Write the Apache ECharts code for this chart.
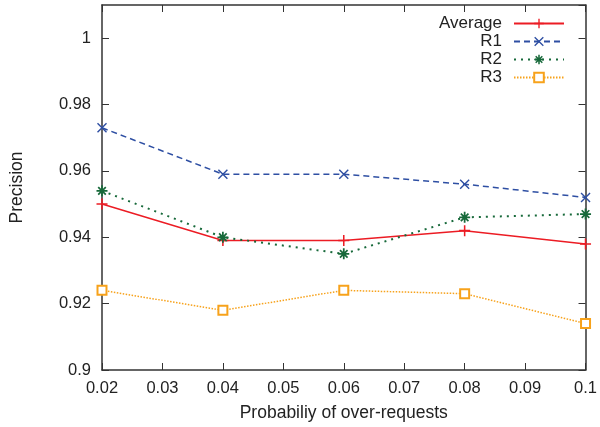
<!DOCTYPE html>
<html>
<head>
<meta charset="utf-8">
<script src="https://cdn.jsdelivr.net/npm/echarts@6/dist/echarts.min.js"></script>
<style>html,body{margin:0;padding:0;background:#fff}#c{width:600px;height:427px}</style>
</head>
<body>
<div id="c"></div>
<script>
var xValues = [0.02, 0.04, 0.06, 0.08, 0.10];
var seriesNames = ['Average', 'R1', 'R2', 'R3'];
var avgValues = [0.950, 0.939, 0.939, 0.942, 0.938];
var r1Values = [0.973, 0.959, 0.959, 0.956, 0.952];
var r2Values = [0.954, 0.940, 0.935, 0.946, 0.947];
var r3Values = [0.924, 0.918, 0.924, 0.923, 0.914];
var xTitle = 'Probabiliy of over-requests';
var yTitle = 'Precision';

function pairs(vals){ return xValues.map(function(x,i){ return [x, vals[i]]; }); }

var plusPath = 'path://M0,4.3H10V5.7H0Z M4.3,0H5.7V10H4.3Z';
var crossPath = 'path://M0,1L1,0L10,9L9,10Z M9,0L10,1L1,10L0,9Z';
var starPath = 'path://M0,4.2H10V5.8H0Z M4.2,0H5.8V10H4.2Z M1,2.1L2.1,1L9,7.9L7.9,9Z M7.9,1L9,2.1L2.1,9L1,7.9Z';

var font = 'Liberation Sans, Arial, Helvetica, sans-serif';
var axisColor = '#333';

function fmt(v){ return String(Math.round(v*100)/100); }

var chart = echarts.init(document.getElementById('c'), null, {renderer:'canvas'});
chart.setOption({
  animation: false,
  backgroundColor: '#fff',
  grid: {left: 98, right: 11, top: 5, bottom: 57, containLabel: false},
  legend: {
    orient: 'vertical', right: 30, top: 10, align: 'right',
    itemWidth: 50, itemHeight: 12, itemGap: 1,
    textStyle: {fontFamily: font, fontSize: 17, color: '#222', padding: [0, 7, 0, 0]},
    data: seriesNames
  },
  xAxis: [{
    type: 'value', min: 0.02, max: 0.1, interval: 0.01,
    name: xTitle, nameLocation: 'middle', nameGap: 34,
    nameTextStyle: {fontFamily: font, fontSize: 17.5, color: '#222'},
    axisLine: {show: true, lineStyle: {color: axisColor, width: 1.5}},
    axisTick: {show: true, inside: true, length: 7, lineStyle: {color: axisColor, width: 1}},
    axisLabel: {fontFamily: font, fontSize: 16.5, color: '#222', margin: 10, formatter: fmt},
    splitLine: {show: false}
  }, {
    type: 'value', position: 'top', min: 0.02, max: 0.1, interval: 0.01,
    axisLine: {show: true, lineStyle: {color: axisColor, width: 1.5}},
    axisTick: {show: true, inside: true, length: 7, lineStyle: {color: axisColor, width: 1}},
    axisLabel: {show: false}, splitLine: {show: false}
  }],
  yAxis: [{
    type: 'value', min: 0.9, max: 1.01, interval: 0.02,
    name: yTitle, nameLocation: 'middle', nameGap: 76, nameRotate: 90,
    nameTextStyle: {fontFamily: font, fontSize: 17.5, color: '#222'},
    axisLine: {show: true, lineStyle: {color: axisColor, width: 1.5}},
    axisTick: {show: true, inside: true, length: 7, lineStyle: {color: axisColor, width: 1}},
    axisLabel: {fontFamily: font, fontSize: 16.5, color: '#222', margin: 11, showMaxLabel: false,
      formatter: function(v){ return Math.abs(Math.round(v*50) - v*50) < 1e-6 ? fmt(v) : ''; }},
    splitLine: {show: false}
  }, {
    type: 'value', position: 'right', min: 0.9, max: 1.01, interval: 0.02,
    axisLine: {show: true, lineStyle: {color: axisColor, width: 1.5}},
    axisTick: {show: true, inside: true, length: 7, lineStyle: {color: axisColor, width: 1}},
    axisLabel: {show: false}, splitLine: {show: false}
  }],
  series: [
    {name: 'Average', type: 'line', data: pairs(avgValues), symbol: plusPath, symbolSize: 11,
     color: '#ec1c24', lineStyle: {width: 1.5, color: '#ec1c24'}, itemStyle: {color: '#ec1c24'}},
    {name: 'R1', type: 'line', data: pairs(r1Values), symbol: crossPath, symbolSize: 10,
     color: '#2e4fa3', lineStyle: {width: 1.5, color: '#2e4fa3', type: [6, 4]}, itemStyle: {color: '#2e4fa3'}},
    {name: 'R2', type: 'line', data: pairs(r2Values), symbol: starPath, symbolSize: 11,
     color: '#17693a', lineStyle: {width: 2, color: '#17693a', type: [2, 5]}, itemStyle: {color: '#17693a'}},
    {name: 'R3', type: 'line', data: pairs(r3Values), symbol: 'rect', symbolSize: 9,
     color: '#f7a21b', lineStyle: {width: 1.5, color: '#f7a21b', type: [1.5, 1.5]},
     itemStyle: {color: '#fff', borderColor: '#f7a21b', borderWidth: 2}}
  ]
});
</script>
</body>
</html>
